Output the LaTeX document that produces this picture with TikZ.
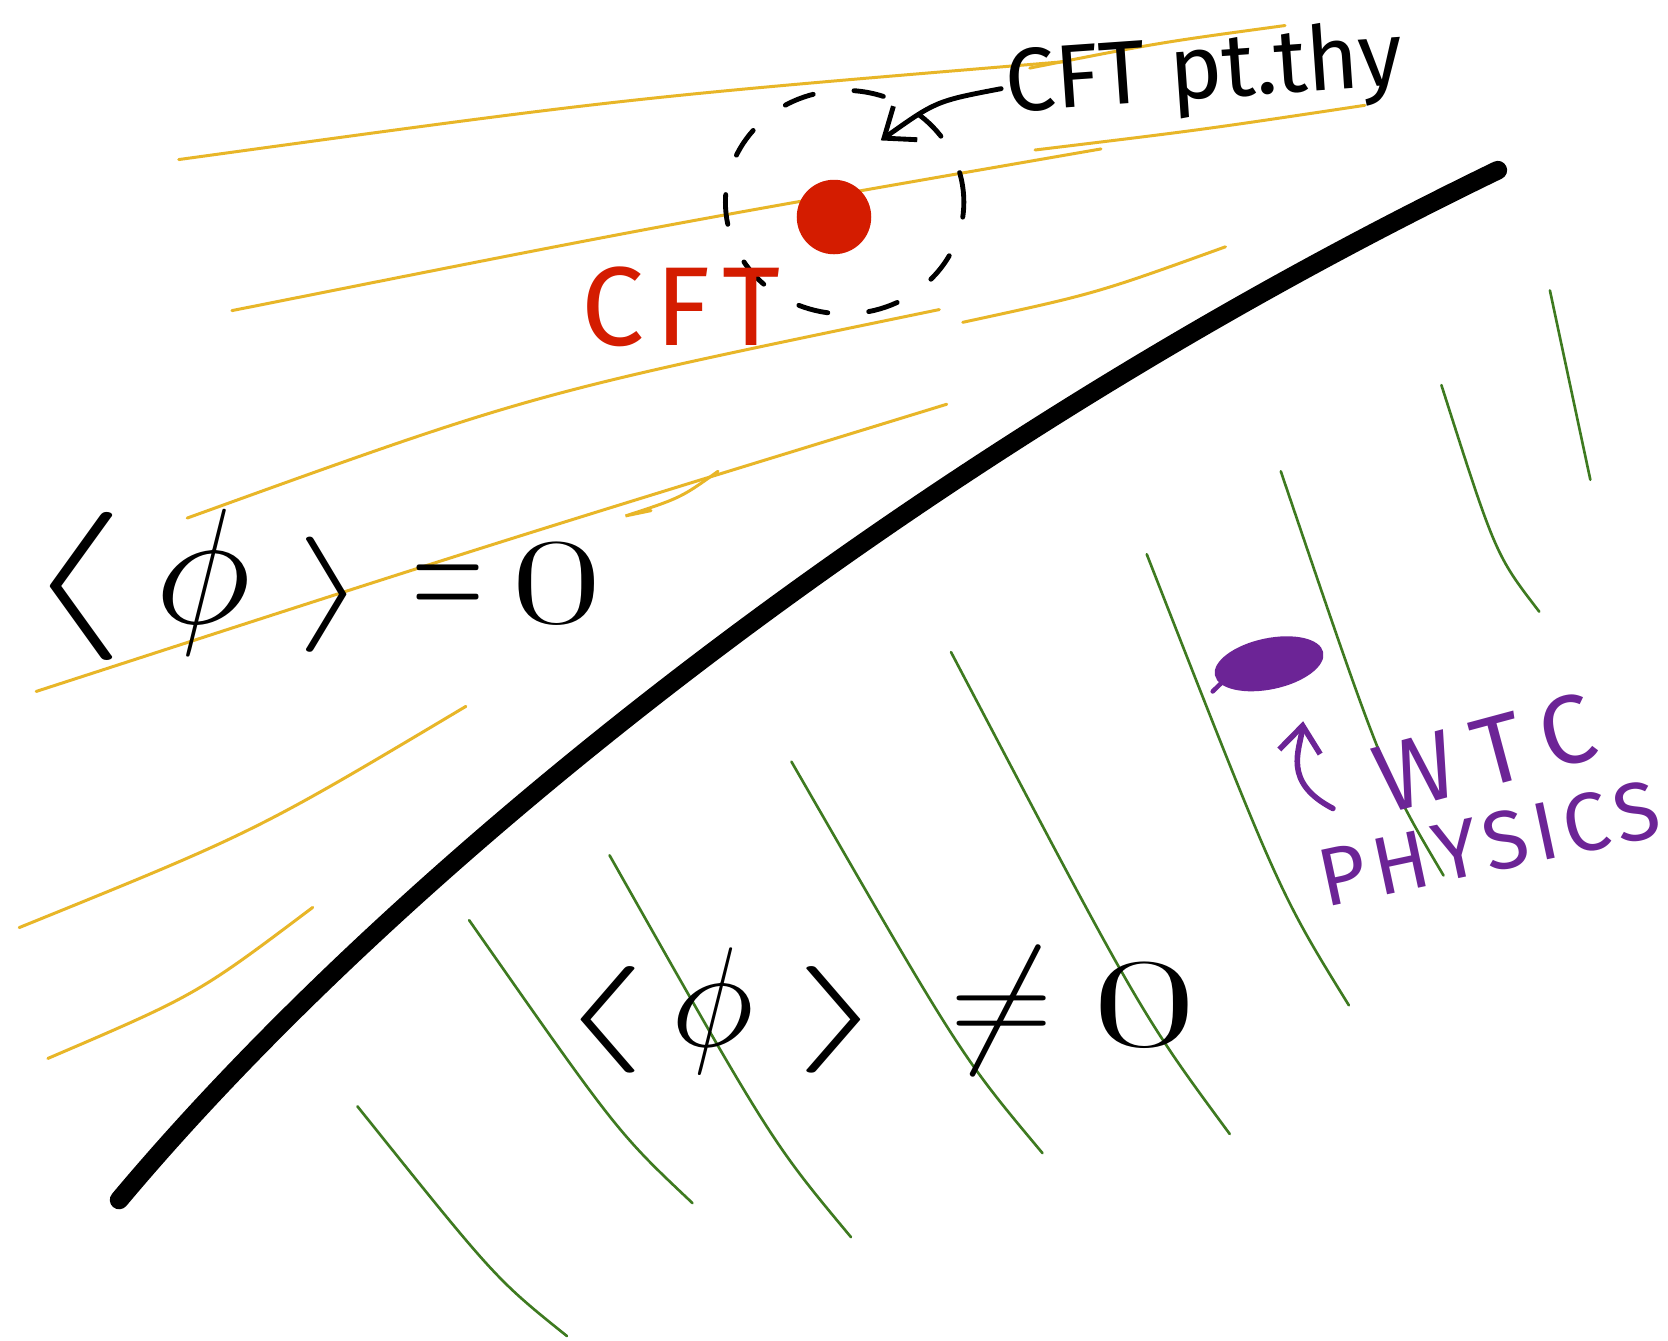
\documentclass[tikz,border=0pt]{standalone}
\usepackage{fix-cm}
\usepackage{graphicx}
\usepackage{fontspec}
\setsansfont{Fira Sans}
\usetikzlibrary{calc,arrows.meta,shapes.geometric}

\definecolor{ouro}{RGB}{232,182,40}
\definecolor{grama}{RGB}{62,122,32}
\definecolor{vermelho}{RGB}{212,28,0}
\definecolor{roxo}{RGB}{108,36,150}

\begin{document}
\begin{tikzpicture}[x=0.01cm, y=-0.01cm,
	amarela/.style={ouro, line width=0.8pt, line cap=round},
	verde/.style={grama, line width=0.7pt, line cap=round},
	parede/.style={line width=5pt, line cap=round, line join=round},
	tracejado/.style={line width=1.3pt, dash pattern=on 8pt off 11pt, line cap=round},
	seta/.style={line width=1.3pt, line cap=round, -{Straight Barb[length=7pt,width=11pt]}},
	mao/.style={font=\sffamily\fontsize{24}{26}\selectfont, inner sep=1pt}]

\useasboundingbox (0,0) rectangle (1568,1260);
\fill[white] (0,0) rectangle (1568,1260);

% Linhas amarelas
\foreach \sx/\sy/\cx/\cy/\ex/\ey in {168/150/590/92/1000/58, 968/64/1090/40/1208/24,
		218/292/620/212/1035/140, 973/141/1130/122/1283/99,
		176/487/500/370/883/291, 34/650/460/512/890/380,
		905/303/1030/276/1152/232, 18/872/240/782/438/664, 45/995/185/935/294/853}
	\draw[amarela] (\sx,\sy) .. controls (\cx,\cy) .. (\ex,\ey);
\draw[amarela] (675,443) .. controls (640,468) .. (588,485) -- (612,480);

% Linhas verdes
\foreach \xa/\ya/\xb/\yb in {336/1040/533/1256, 441/865/651/1131, 573/804/800/1163,
		744/716/980/1084, 894/613/1156/1066, 1078/521/1268/945,
		1204/443/1357/823, 1355/362/1447/575}
	\draw[verde] (\xa,\ya) .. controls ($(\xa,\ya)!.75!(\xb,\yb)+(-18,0)$) .. (\xb,\yb);
\draw[verde] (1457,273) -- (1495,451);

% Fronteira
\draw[parede] (112,1128) .. controls (370,820) and (850,430) .. (1408,160);

% Ponto fixo
\node[circle, fill=vermelho, minimum size=0.7cm, inner sep=0pt] (cft) at (784,204) {};
\node[ellipse, draw, tracejado, minimum width=2.24cm, minimum height=2.1cm, inner sep=0pt] (bacia) at (794,190) {};
\node[mao, vermelho, font=\sffamily\fontsize{30}{32}\selectfont] (cftlab) at (640,288) {\addfontfeature{LetterSpace=10}CFT};

\node[mao, rotate=4] (ptthy) at (1132,70) {CFT pt.thy};
\coordinate (ponta) at (828,132);
\draw[seta] (ptthy.west) .. controls (880,95) .. (ponta);

% Fases
\node (simetrica) at (292,550) {\fontsize{44}{48}\selectfont$\scalebox{1.7}[0.9]{$\langle$}\,\phi\;\scalebox{1.1}[0.7]{$\rangle$}\;\scalebox{0.6}[1]{$=$}\,\scalebox{1.2}[0.75]{$0$}$};
\node (quebrada) at (823,950) {\fontsize{38}{42}\selectfont$\scalebox{1.7}[0.75]{$\langle$}\,\phi\;\scalebox{1.7}[0.75]{$\rangle$}\;\,{\neq}\;\scalebox{1.6}[0.9]{$0$}$};

% WTC
\node[ellipse, fill=roxo, minimum width=1.04cm, minimum height=0.48cm, inner sep=0pt, rotate=12] (wtc) at (1193,624) {};
\draw[roxo, line width=1.2pt, line cap=round] (1140,650) .. controls (1150,640) .. (1168,628);
\node[mao, roxo, font=\sffamily\fontsize{26}{28}\selectfont, rotate=15] (wtclab) at (1396,708) {\addfontfeature{LetterSpace=22}WTC};
\node[mao, roxo, font=\sffamily\fontsize{22}{24}\selectfont, rotate=12] (physlab) at (1400,793) {\addfontfeature{LetterSpace=8}PHYSICS};
\coordinate (cauda) at (1253,760);
\coordinate (topo) at (1225,678);
\draw[seta, roxo, line width=1.5pt] (cauda) .. controls (1205,735) and (1222,705) .. (topo);

\end{tikzpicture}
\end{document}
